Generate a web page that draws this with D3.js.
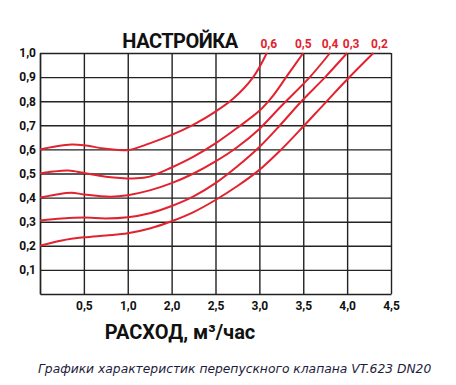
<!DOCTYPE html>
<html>
<head>
<meta charset="utf-8">
<script src="https://cdn.jsdelivr.net/npm/d3@7"></script>
<style>
    body { margin: 0; background: #fff; }
    text { font-family: Roboto, sans-serif; }
    .grid line, .grid path { stroke: #222; stroke-width: 1.4 }
    .grid text { font-size: 12px; font-weight: 700; fill: #111 }
    .caption { font-family: "DejaVu Sans", sans-serif; font-style: italic; font-size: 12.3px; fill: #1c1c3c }
</style>
</head>
<body>
<svg id="chart" width="456" height="385"></svg>
<script>
    // flow, m3/h -- the axis is not linear (0,5 1,0 2,0 2,5 ...)
    let xTicks = [0, 0.5, 1.0, 2.0, 2.5, 3.0, 3.5, 4.0, 4.5]
    let xTickLabels = ["", "0,5", "1,0", "2,0", "2,5", "3,0", "3,5", "4,0", "4,5"]
    let yTicks = [0.1, 0.2, 0.3, 0.4, 0.5, 0.6, 0.7, 0.8, 0.9, 1.0]
    let yTickLabels = ["0,1", "0,2", "0,3", "0,4", "0,5", "0,6", "0,7", "0,8", "0,9", "1,0"]

    // valve setting -> curve [flow, pressure]
    let settings = ["0,6", "0,5", "0,4", "0,3", "0,2"]
    let curve06 = [[0, 0.6], [0.175, 0.612], [0.36, 0.62], [0.5, 0.617], [0.75, 0.603], [1.0, 0.597],
        [1.5, 0.625], [2.0, 0.66], [2.25, 0.703], [2.5, 0.757], [2.7, 0.81], [2.93, 0.9], [3.085, 1.0]]
    let curve05 = [[0, 0.5], [0.15, 0.508], [0.325, 0.512], [0.5, 0.502], [0.75, 0.487], [1.2, 0.48],
        [1.5, 0.487], [2.0, 0.525], [2.25, 0.57], [2.5, 0.625], [2.75, 0.69], [3.0, 0.76],
        [3.15, 0.82], [3.325, 0.91], [3.5, 1.0]]
    let curve04 = [[0, 0.4], [0.175, 0.412], [0.36, 0.42], [0.5, 0.413], [0.8, 0.404], [1.0, 0.41],
        [1.5, 0.43], [2.0, 0.46], [2.25, 0.5], [2.5, 0.55], [2.75, 0.61], [3.0, 0.685], [3.25, 0.78],
        [3.575, 0.9], [3.805, 1.0]]
    let curve03 = [[0, 0.305], [0.25, 0.313], [0.5, 0.317], [0.75, 0.313], [1.0, 0.318], [1.5, 0.335],
        [2.0, 0.365], [2.25, 0.405], [2.5, 0.46], [2.75, 0.53], [3.0, 0.61], [3.235, 0.7], [3.48, 0.8],
        [3.75, 0.9], [4.0, 1.0]]
    let curve02 = [[0, 0.2], [0.25, 0.222], [0.5, 0.235], [0.75, 0.243], [1.0, 0.252], [1.5, 0.272],
        [2.0, 0.302], [2.25, 0.34], [2.5, 0.39], [2.75, 0.448], [3.0, 0.515], [3.25, 0.6], [3.5, 0.695],
        [3.73, 0.785], [4.0, 0.89], [4.3, 1.0]]
    let curves = [curve06, curve05, curve04, curve03, curve02]

    let svg = d3.select("#chart")
    let plotLeft = 40, plotRight = 391, plotTop = 53, plotBottom = 294
    // nudges for the setting labels above the frame
    let labelDx = [2, 0, 0, 4, 6]

    let step = (plotRight - plotLeft) / (xTicks.length - 1)
    let x = d3.scaleLinear()
        .domain(xTicks)
        .range(xTicks.map((d, i) => plotLeft + i * step))
    let y = d3.scaleLinear()
        .domain([0, 1])
        .range([plotBottom, plotTop])

    svg.append("g")
        .attr("class", "grid")
        .attr("transform", `translate(0,${plotBottom})`)
        .call(d3.axisBottom(x)
            .tickValues(xTicks)
            .tickSize(-(plotBottom - plotTop))
            .tickSizeOuter(0)
            .tickPadding(7)
            .tickFormat((d, i) => xTickLabels[i]))

    svg.append("g")
        .attr("class", "grid")
        .attr("transform", `translate(${plotLeft},0)`)
        .call(d3.axisLeft(y)
            .tickValues(yTicks)
            .tickSize(-(plotRight - plotLeft))
            .tickSizeOuter(0)
            .tickPadding(4)
            .tickFormat((d, i) => yTickLabels[i]))

    let line = d3.line()
        .x(d => x(d[0]))
        .y(d => y(d[1]))
        .curve(d3.curveCatmullRom.alpha(0.5))

    svg.append("g")
        .selectAll("path")
        .data(curves)
        .enter()
        .append("path")
        .attr("d", line)
        .attr("fill", "none")
        .attr("stroke", "#e2232f")
        .attr("stroke-width", 2)

    svg.append("g")
        .selectAll("text")
        .data(curves)
        .enter()
        .append("text")
        .attr("x", (d, i) => x(d[d.length - 1][0]) + labelDx[i])
        .attr("y", plotTop - 5)
        .attr("text-anchor", "middle")
        .attr("fill", "#e2232f")
        .attr("font-size", 12)
        .attr("font-weight", 700)
        .text((d, i) => settings[i])

    svg.append("text")
        .attr("x", 180)
        .attr("y", 47.5)
        .attr("text-anchor", "middle")
        .attr("font-size", 20)
        .attr("font-weight", 700)
        .attr("letter-spacing", -0.5)
        .attr("fill", "#111")
        .text("НАСТРОЙКА")

    svg.append("text")
        .attr("x", 180)
        .attr("y", 339)
        .attr("text-anchor", "middle")
        .attr("font-size", 20)
        .attr("font-weight", 700)
        .attr("fill", "#111")
        .text("РАСХОД, м³/час")

    svg.append("text")
        .attr("class", "caption")
        .attr("x", 38)
        .attr("y", 373)
        .text("Графики характеристик перепускного клапана VT.623 DN20")
</script>
</body>
</html>
